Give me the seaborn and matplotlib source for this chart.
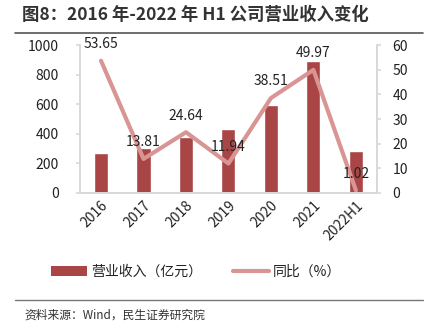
import matplotlib
matplotlib.use("Agg")
import matplotlib.pyplot as plt
import seaborn as sns
import pandas as pd
from matplotlib.lines import Line2D
from matplotlib.patches import Patch

categories = ["2016", "2017", "2018", "2019", "2020", "2021", "2022H1"]
revenue = [270, 304, 380, 432, 595, 892, 284]
yoy = [53.65, 13.81, 24.64, 11.94, 38.51, 49.97, 1.02]
left_ticks = [0, 200, 400, 600, 800, 1000]
right_ticks = [0, 10, 20, 30, 40, 50, 60]

sns.set_theme(style="white")
plt.rcParams['font.family'] = ['Noto Sans CJK SC', 'DejaVu Sans']

bar_color = "#A94545"
line_color = "#D99594"
spine_color = "#D9D9D9"

df = pd.DataFrame({"cat": categories, "rev": revenue, "yoy": yoy})

fig = plt.figure(figsize=(4.36, 3.27), dpi=100)
ax = fig.add_axes([0.183, 0.41, 0.682, 0.452])
sns.barplot(data=df, x="cat", y="rev", color=bar_color, width=0.33, ax=ax, saturation=1)
ax.set_ylim(0, 1000)
ax.set_yticks(left_ticks)
ax.set_xlim(-0.5, len(categories) - 0.5)
ax.set_xlabel("")
ax.set_ylabel("")

ax2 = ax.twinx()
sns.lineplot(x=list(range(len(categories))), y=yoy, color=line_color, linewidth=3, ax=ax2)
ax2.set_ylim(0, 60)
ax2.set_yticks(right_ticks)
ax2.set_ylabel("")
for i, v in enumerate(yoy):
    ax2.annotate(f"{v:.2f}", (i, v), xytext=(0, 7), textcoords="offset points",
                 ha="center", va="bottom", fontsize=10, color="#222222")

for a in (ax, ax2):
    for s in a.spines.values():
        s.set_color(spine_color)
    a.spines["top"].set_visible(False)
    a.tick_params(axis="y", labelsize=10, colors="#222222", length=3, color=spine_color, pad=12)
ax.tick_params(axis="y", direction="out")
ax.tick_params(axis="x", labelsize=10, colors="#222222", length=0, pad=4)
ax2.tick_params(axis="y", pad=8)
for lbl in ax.get_xticklabels():
    lbl.set_rotation(45)
    lbl.set_ha("right")
    lbl.set_rotation_mode("anchor")

handles = [Patch(facecolor=bar_color, edgecolor="none"),
           Line2D([0], [0], color=line_color, linewidth=3)]
fig.legend(handles, ["营业收入（亿元）", "同比（%）"], loc="center", bbox_to_anchor=(0.45, 0.168),
           ncol=2, frameon=False, fontsize=10, handlelength=2.6, columnspacing=2.2, handletextpad=0.3,
           labelcolor="#222222")

fig.text(0.05, 0.955, "图8：2016 年-2022 年 H1 公司营业收入变化", fontsize=12.5, fontweight="bold",
         color="#333333", va="center", ha="left")
fig.add_artist(Line2D([0.035, 0.97], [0.899, 0.899], color="#555555", linewidth=1.2))
fig.add_artist(Line2D([0.035, 0.97], [0.082, 0.082], color="#777777", linewidth=1.0))
fig.text(0.057, 0.037, "资料来源：Wind，民生证券研究院", fontsize=8.5, color="#333333", va="center", ha="left")

fig.savefig("out.png", dpi=100)
